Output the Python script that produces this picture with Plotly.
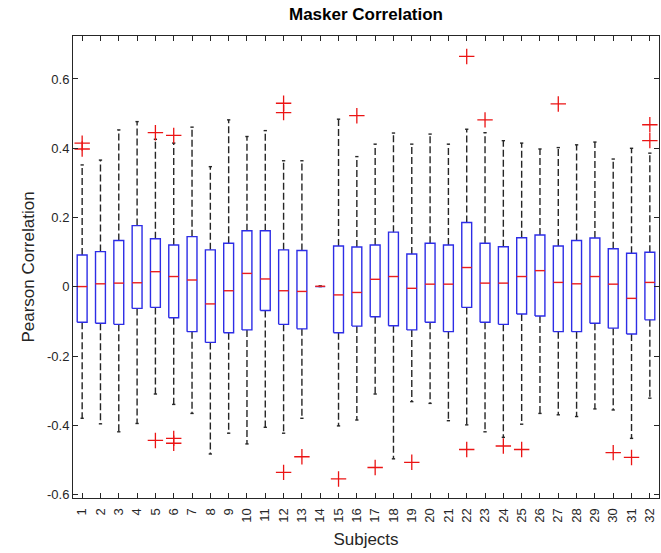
import plotly.graph_objects as go

subjects = list(range(1, 33))
q1 = [-0.102, -0.105, -0.108, -0.062, -0.059, -0.089, -0.129, -0.160, -0.132, -0.124,
      -0.068, -0.108, -0.121, 0.001, -0.132, -0.113, -0.086, -0.112, -0.124, -0.102,
      -0.129, -0.059, -0.102, -0.108, -0.078, -0.084, -0.129, -0.129, -0.105, -0.119,
      -0.136, -0.095]
med = [0.001, 0.009, 0.011, 0.012, 0.044, 0.030, 0.020, -0.049, -0.011, 0.039,
       0.023, -0.011, -0.013, 0.002, -0.023, -0.016, 0.022, 0.030, -0.004, 0.008,
       0.008, 0.056, 0.011, 0.011, 0.030, 0.047, 0.013, 0.009, 0.030, 0.008,
       -0.033, 0.013]
q3 = [0.092, 0.102, 0.134, 0.177, 0.139, 0.121, 0.145, 0.107, 0.126, 0.162,
      0.162, 0.107, 0.105, 0.003, 0.118, 0.115, 0.121, 0.158, 0.095, 0.126,
      0.121, 0.186, 0.126, 0.116, 0.142, 0.150, 0.118, 0.134, 0.141, 0.110,
      0.097, 0.100]
lo = [-0.379, -0.395, -0.418, -0.394, -0.309, -0.339, -0.365, -0.482, -0.422, -0.453,
      -0.405, -0.422, -0.379, 0.001, -0.401, -0.384, -0.309, -0.496, -0.331, -0.336,
      -0.386, -0.398, -0.418, -0.434, -0.396, -0.365, -0.369, -0.374, -0.352, -0.355,
      -0.437, -0.321]
hi = [0.352, 0.366, 0.453, 0.477, 0.426, 0.415, 0.461, 0.347, 0.482, 0.434,
      0.451, 0.364, 0.364, 0.003, 0.484, 0.376, 0.412, 0.444, 0.412, 0.441,
      0.412, 0.455, 0.445, 0.422, 0.415, 0.398, 0.402, 0.410, 0.418, 0.369,
      0.400, 0.386]
outliers = [
    [0.415, 0.398], [], [], [], [0.445, -0.443], [0.437, -0.437, -0.451], [], [], [], [],
    [], [0.530, 0.503, -0.535], [-0.490], [], [-0.554], [0.494], [-0.521], [], [-0.506], [],
    [], [0.665, -0.469], [0.482], [-0.459], [-0.469], [], [0.528], [], [], [-0.478],
    [-0.492], [0.468, 0.422],
]
ytick_vals = [-0.6, -0.4, -0.2, 0, 0.2, 0.4, 0.6]
ytick_text = ["-0.6", "-0.4", "-0.2", "0", "0.2", "0.4", "0.6"]

BW = 0.27   # half box width
CW = 0.09   # half cap width

wx, wy, cx, cy, bx, by, mx, my, ox, oy = [], [], [], [], [], [], [], [], [], []
for i, s in enumerate(subjects):
    wx += [s, s, None, s, s, None]
    wy += [q3[i], hi[i], None, q1[i], lo[i], None]
    cx += [s - CW, s + CW, None, s - CW, s + CW, None]
    cy += [hi[i], hi[i], None, lo[i], lo[i], None]
    bx += [s - BW, s + BW, s + BW, s - BW, s - BW, None]
    by += [q1[i], q1[i], q3[i], q3[i], q1[i], None]
    mx += [s - BW, s + BW, None]
    my += [med[i], med[i], None]
    for v in outliers[i]:
        ox.append(s)
        oy.append(v)

fig = go.Figure()
fig.add_trace(go.Scatter(x=wx, y=wy, mode="lines",
                         line=dict(color="#262626", width=1.4, dash="7px,3px"), hoverinfo="skip"))
fig.add_trace(go.Scatter(x=cx, y=cy, mode="lines",
                         line=dict(color="#262626", width=1.4), hoverinfo="skip"))
fig.add_trace(go.Scatter(x=bx, y=by, mode="lines",
                         line=dict(color="rgb(45,45,230)", width=1.4), hoverinfo="skip"))
fig.add_trace(go.Scatter(x=mx, y=my, mode="lines",
                         line=dict(color="rgb(235,30,30)", width=1.4), hoverinfo="skip"))
fig.add_trace(go.Scatter(x=ox, y=oy, mode="markers",
                         marker=dict(symbol="cross-thin", size=11,
                                     line=dict(color="rgb(235,20,20)", width=1.3)),
                         hoverinfo="skip"))

font_family = "Liberation Sans, Arial, sans-serif"
fig.update_layout(
    width=661, height=553,
    margin=dict(l=73, r=2, t=36, b=55),
    paper_bgcolor="white", plot_bgcolor="white",
    showlegend=False,
    font=dict(family=font_family, color="#262626", size=13),
    title=dict(text="<b>Masker Correlation</b>", x=(73 + 659) / 2 / 661, xanchor="center",
               y=1 - 14 / 553, yanchor="middle", yref="container",
               font=dict(size=17, color="black", family=font_family)),
)
fig.update_xaxes(
    range=[0.5, 32.5], tickmode="array", tickvals=subjects,
    ticktext=[str(s) for s in subjects], tickangle=-90,
    ticks="inside", ticklen=5, tickcolor="#262626", mirror="ticks",
    showline=True, linecolor="#262626", linewidth=1, showgrid=False, zeroline=False,
    tickfont=dict(size=13, color="#262626"), ticklabelstandoff=4,
    title=dict(text="Subjects", font=dict(size=17, color="#262626"), standoff=11),
)
fig.update_yaxes(
    range=[-0.609, 0.724], tickmode="array", tickvals=ytick_vals, ticktext=ytick_text,
    ticks="inside", ticklen=5, tickcolor="#262626", mirror="ticks",
    showline=True, linecolor="#262626", linewidth=1, showgrid=False, zeroline=False,
    tickfont=dict(size=13, color="#262626"),
    title=dict(text="Pearson Correlation", font=dict(size=17, color="#262626"), standoff=8),
)
fig.write_html("out.html")
